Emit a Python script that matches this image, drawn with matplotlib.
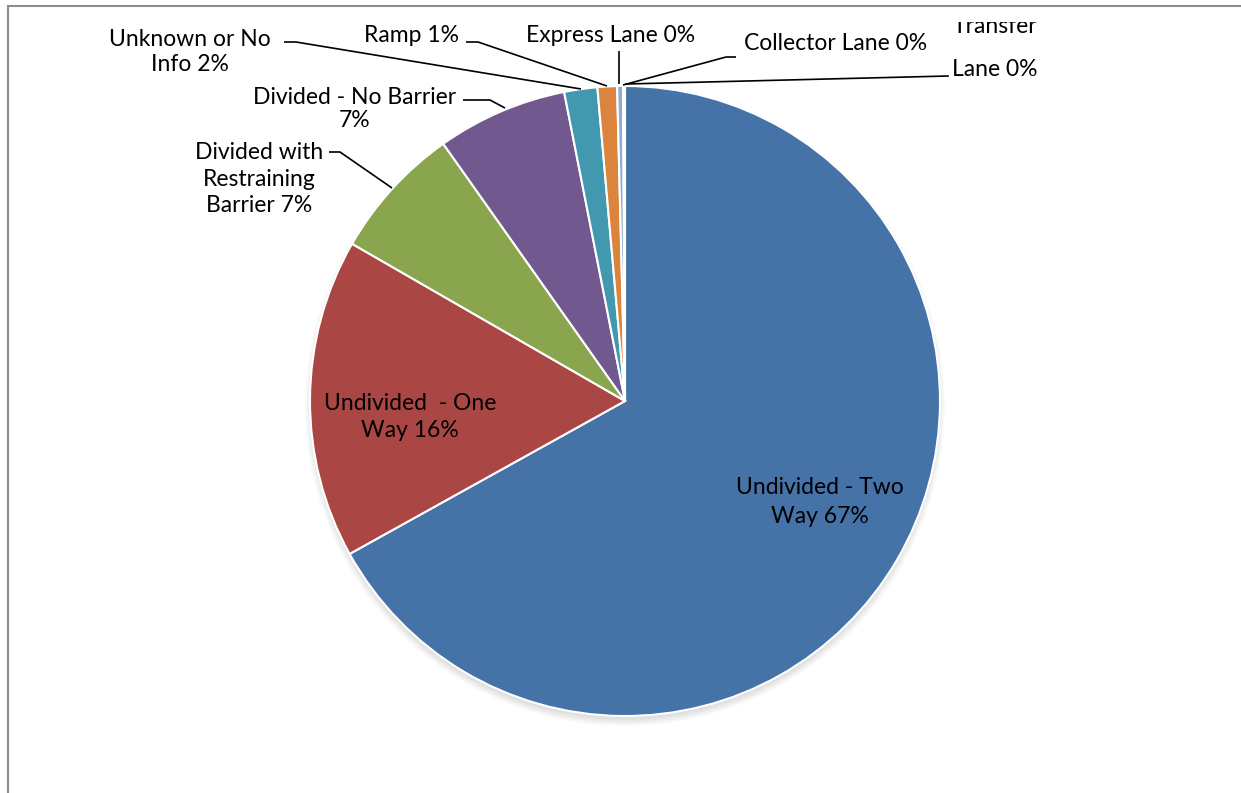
import matplotlib.pyplot as plt
from matplotlib.patches import Circle, Rectangle

# road type breakdown (percent of crashes)
labels = ["Undivided - Two\nWay 67%", "Undivided  - One\nWay 16%",
          "Divided with\nRestraining\nBarrier 7%", "Divided - No Barrier\n7%",
          "Unknown or No\nInfo 2%", "Ramp 1%", "Express Lane 0%",
          "Collector Lane 0%", "Transfer\nLane 0%"]
values = [67.0, 16.4, 6.9, 6.7, 1.7, 1.0, 0.3, 0.05, 0.05]
colors = ["#4572A7", "#AA4643", "#89A54E", "#71588F", "#4198AF",
          "#DB843D", "#93A9CF", "#D19392", "#B9CD96"]

W, H = 1241, 793
fig = plt.figure(figsize=(W / 100, H / 100), dpi=100)
ax = fig.add_axes([0, 0, 1, 1])

plt.rcParams["font.family"] = ["Lato", "DejaVu Sans"]
fs = 16.5

cx, cy, r = 625, H - 401, 315

# soft drop shadow under the pie
for k in range(8):
    ax.add_patch(Circle((cx, cy - 5), r - 2 + k, color="black",
                        alpha=0.017, lw=0, zorder=0))

wedges, _ = ax.pie(values, colors=colors, startangle=90, counterclock=False,
                   center=(cx, cy), radius=r, frame=True,
                   wedgeprops=dict(edgecolor="white", linewidth=1.5))
ax.set_xlim(0, W)
ax.set_ylim(0, H)
ax.set_aspect("equal")
ax.axis("off")

# chart frame
ax.add_patch(Rectangle((8, -20), W + 40, H - 6 + 20, fill=False,
                       edgecolor="#8c8c8c", lw=1.5, zorder=5))


def px(x, y):
    return (x, H - y)


# inside labels
ax.text(*px(820, 502), labels[0], ha="center", va="center", fontsize=fs,
        linespacing=1.45)
ax.text(*px(410, 417), labels[1], ha="center", va="center", fontsize=fs,
        linespacing=1.38)

# outside labels with leader lines: text position, spacing, line points
outside = [
    (2, (259, 179), 1.3, [(392, 188), (340, 152), (329, 152)]),
    (3, (355, 109), 1.1, [(505, 108), (490, 100), (463, 100)]),
    (4, (190, 52), 1.25, [(581, 89), (296, 42), (284, 42)]),
    (5, (412, 36), 1.2, [(607, 86), (478, 42), (466, 42)]),
    (6, (611, 36), 1.2, [(619, 84), (619, 51)]),
    (7, (836, 43), 1.2, [(623, 85), (726, 57), (736, 57)]),
]
for i, (tx, ty), ls, pts in outside:
    ax.text(*px(tx, ty), labels[i], ha="center", va="center", fontsize=fs,
            linespacing=ls)
    ax.plot([p[0] for p in pts], [H - p[1] for p in pts], color="black",
            lw=1.2, zorder=4, solid_capstyle="butt")

# the top of this label runs under the plot area edge
t = ax.text(*px(995, 48), labels[8], ha="center", va="center", fontsize=fs,
            linespacing=2.25)
t.set_clip_on(True)
t.set_clip_path(Rectangle((0, 0), W, H - 22, transform=ax.transData))
ax.plot([626, 948], [H - 84, H - 76], color="black", lw=1.2, zorder=4)

fig.savefig("out.png", dpi=100)
